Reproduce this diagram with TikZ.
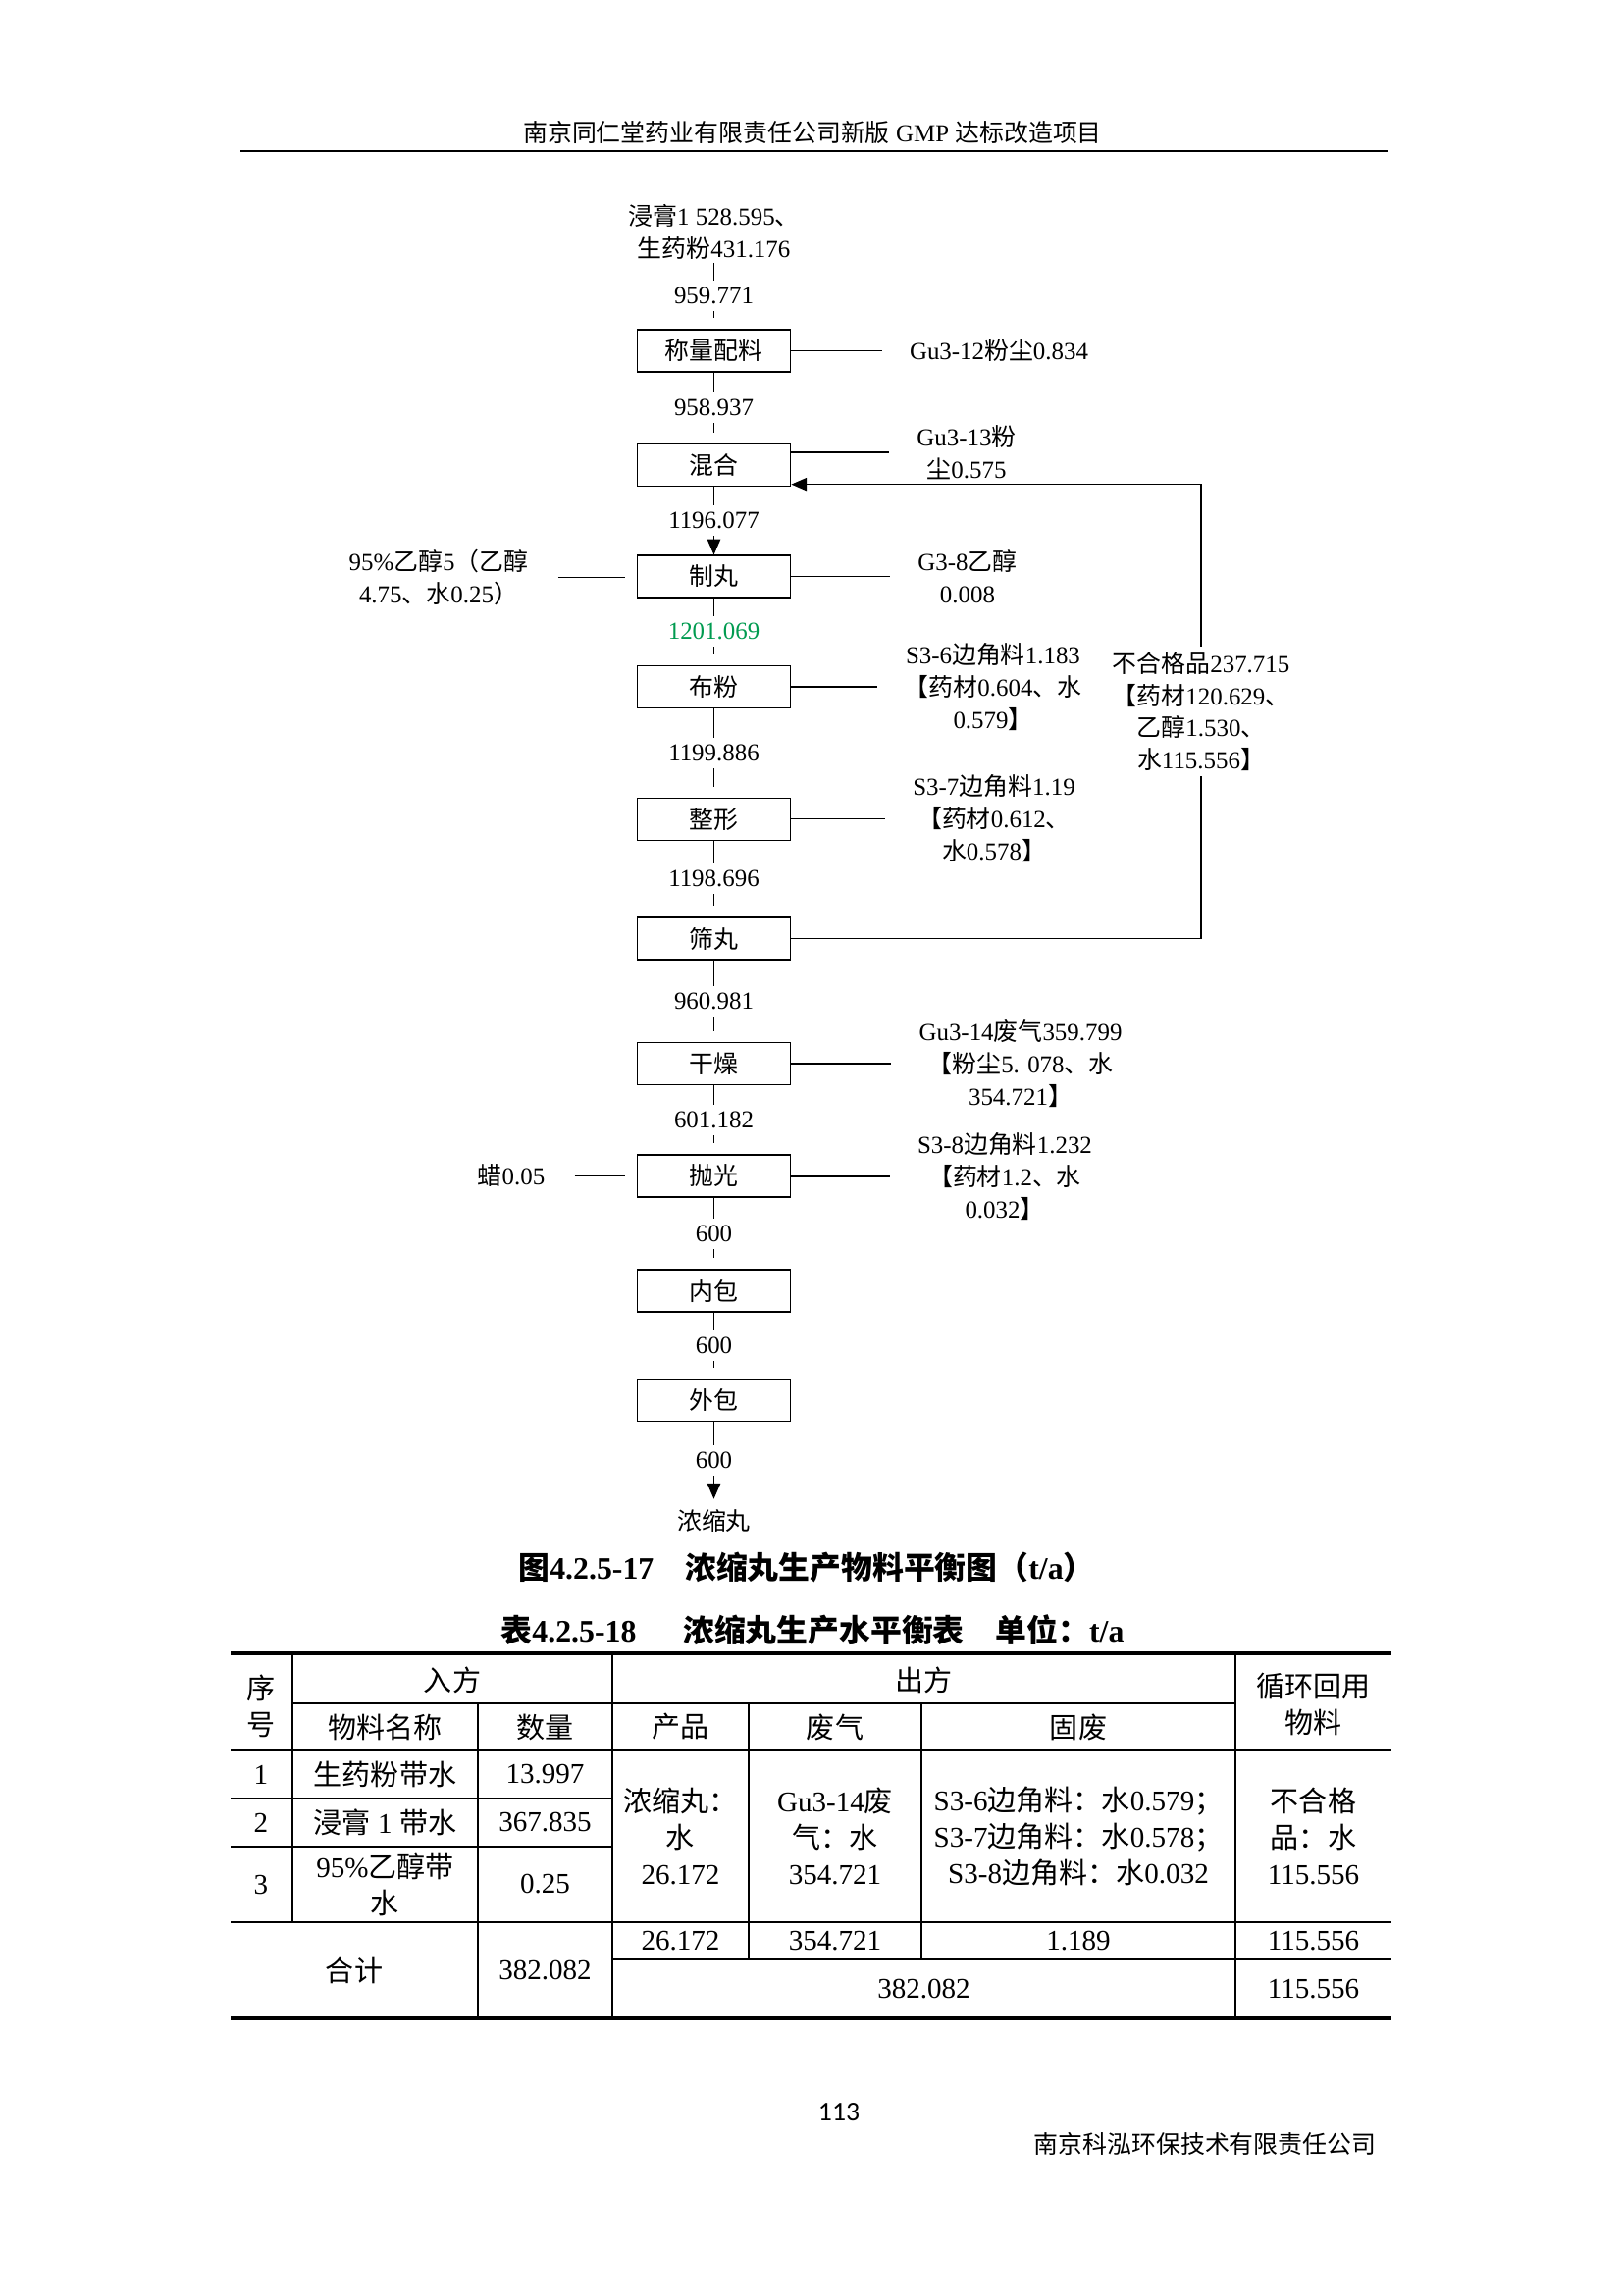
\documentclass[tikz,border=0pt]{standalone}
\usepackage{fontspec}
\setmainfont{Liberation Serif}
\newfontfamily\cjk{Noto Sans CJK SC}
\newfontfamily\pagenum{Carlito}
\usetikzlibrary{arrows.meta,calc}
\definecolor{flowgreen}{RGB}{0,155,80}

% switch to the CJK font for Chinese characters and full-width punctuation
\XeTeXinterchartokenstate=1
\newXeTeXintercharclass\cjkcls
\newcount\cjkc
\cjkc="3000 \loop\XeTeXcharclass\cjkc=\cjkcls \advance\cjkc by 1 \ifnum\cjkc<"3040 \repeat
\cjkc="4E00 \loop\XeTeXcharclass\cjkc=\cjkcls \advance\cjkc by 1 \ifnum\cjkc<"A000 \repeat
\cjkc="FF00 \loop\XeTeXcharclass\cjkc=\cjkcls \advance\cjkc by 1 \ifnum\cjkc<"FFF0 \repeat
\XeTeXinterchartoks 0 \cjkcls={\cjk}
\XeTeXinterchartoks 4095 \cjkcls={\cjk}
\XeTeXinterchartoks \cjkcls 0={\rmfamily}
\XeTeXinterchartoks \cjkcls 4095={\rmfamily}

\newcommand{\fsl}[2]{\fontsize{#1}{#2}\selectfont}
\tikzset{
  >={Triangle[length=2mm,width=1.7mm]},
  box/.style={draw,minimum width=19.9mm,minimum height=5.45mm,inner sep=0pt,font=\fsl{9}{11.9}},
  wt/.style={midway,fill=white,inner xsep=1pt,inner ysep=0.9mm,font=\fsl{9}{11.9}},
  fl/.style={shorten >=1.4mm},
  outl/.style={align=center,inner xsep=3.5mm,inner ysep=1pt,font=\fsl{9}{11.9}},
  inl/.style={align=center,inner xsep=3.8mm,inner ysep=1pt,font=\fsl{9}{11.9}},
  fbl/.style={align=center,fill=white,inner xsep=1pt,inner ysep=0.6mm,font=\fsl{9}{11.9}},
  cell/.style={align=center,inner sep=0pt,font=\fsl{10.5}{13.3}},
  rl/.style={line width=1.6pt},
  ml/.style={line width=1pt},
  tl/.style={line width=0.75pt},
  every picture/.style={line width=0.4pt},
}

\begin{document}
\begin{tikzpicture}[x=0.12697mm,y=-0.12697mm]
\useasboundingbox (0,0) rectangle (1654,2339);
\node[font=\fsl{9}{11}] (hd) at (828,135){南京同仁堂药业有限责任公司新版 GMP 达标改造项目};
\draw[line width=1pt] (245,154) -- (1415,154);

\node[align=center,inner xsep=1pt,inner ysep=1pt,font=\fsl{9}{11.9}] (in) at (727.5,236.5){浸膏1 528.595、\\生药粉431.176};
\node[box] (b1) at (727.5,357.5){称量配料}; \node[box] (b2) at (727.5,474){混合};
\node[box] (b3) at (727.5,587.5){制丸}; \node[box] (b4) at (727.5,700){布粉};
\node[box] (b5) at (727.5,835){整形}; \node[box] (b6) at (727.5,956.5){筛丸};
\node[box] (b7) at (727.5,1084){干燥}; \node[box] (b8) at (727.5,1198.5){抛光};
\node[box] (b9) at (727.5,1315.5){内包}; \node[box] (b10) at (727.5,1427){外包};
\node[inner sep=1.3mm,font=\fsl{9}{11.9}] (out) at (727.5,1550){浓缩丸};

\draw[fl] (in) -- node[wt]{959.771} (b1);
\draw[fl] (b1) -- node[wt]{958.937} (b2);
\draw[->] (b2) -- node[wt]{1196.077} (b3);
\draw[fl] (b3) -- node[wt,text=flowgreen]{1201.069} (b4);
\draw[fl] (b4) -- node[wt]{1199.886} (b5);
\draw[fl] (b5) -- node[wt]{1198.696} (b6);
\draw[fl] (b6) -- node[wt]{960.981} (b7);
\draw[fl] (b7) -- node[wt]{601.182} (b8);
\draw[fl] (b8) -- node[wt]{600} (b9);
\draw[fl] (b9) -- node[wt]{600} (b10);
\draw[->] (b10) -- node[wt]{600} (out);

\node[outl] (o1) at (1018,357.5){Gu3-12粉尘0.834};
\node[outl] (o2) at (985,461){Gu3-13粉\\尘0.575};
\node[outl] (o3) at (986,587.5){G3-8乙醇\\0.008};
\node[outl] (o4) at (1012,700){S3-6边角料1.183\\【药材0.604、水\\0.579】};
\node[outl] (o5) at (1013,834.5){S3-7边角料1.19\\【药材0.612、\\水0.578】};
\node[outl] (o6) at (1040,1084){Gu3-14废气359.799\\【粉尘5. 078、水\\354.721】};
\node[outl] (o7) at (1024,1199){S3-8边角料1.232\\【药材1.2、水\\0.032】};
\draw (b1.east |- o1) -- (o1); \draw (b2.east |- o2) -- (o2); \draw (b3.east |- o3) -- (o3);
\draw (b4.east |- o4) -- (o4); \draw (b5.east |- o5) -- (o5); \draw (b7.east |- o6) -- (o6);
\draw (b8.east |- o7) -- (o7);

\node[inl] (i1) at (447,588.5){95\%乙醇5（乙醇\\4.75、水0.25）};
\node[inl] (i2) at (521,1198.5){蜡0.05};
\draw[shorten >=1.5mm] (i1) -- (b3.west |- i1);
\draw[shorten >=1.5mm] (i2) -- (b8.west |- i2);

\coordinate (rj) at (1224,956.5);
\draw[->] (b6.east) -- (rj) |- node[fbl,pos=0.25]{不合格品237.715\\【药材120.629、\\乙醇1.530、\\水115.556】} ([yshift=0.3mm]b2.south east);

\node[font=\bfseries\fsl{11.5}{14}] (cap) at (822,1597){图4.2.5-17\hspace{1em}浓缩丸生产物料平衡图（t/a）};
\node[font=\bfseries\fsl{11.5}{14}] (ttl) at (828,1661){表4.2.5-18\hspace{1.5em}浓缩丸生产水平衡表\hspace{1em}单位：t/a};

\draw[rl] (235,1685) -- (1418,1685); \draw[rl] (235,2057) -- (1418,2057);
\draw[ml] (235,1784) -- (1418,1784); \draw[ml] (235,1959) -- (1418,1959);
\draw[ml] (624,1997) -- (1418,1997); \draw[tl] (298,1736) -- (1259,1736);
\draw[tl] (235,1833) -- (624,1833); \draw[tl] (235,1882) -- (624,1882);
\draw[ml] (298,1685) -- (298,1959); \draw[ml] (487,1736) -- (487,2057);
\draw[ml] (624,1685) -- (624,2057); \draw[ml] (763,1736) -- (763,1997);
\draw[ml] (939,1736) -- (939,1997); \draw[ml] (1259,1685) -- (1259,2057);

\node[cell] (xh) at (266,1739){序\\号}; \node[cell] (rf) at (461,1712){入方};
\node[cell] (cf) at (941.5,1712){出方}; \node[cell] (xr) at (1338.5,1737){循环回用\\物料};
\node[cell] (hm) at (392.5,1760){物料名称}; \node[cell] (hq) at (555.5,1760){数量};
\node[cell] (hp) at (693.5,1760){产品}; \node[cell] (hw) at (851,1760){废气};
\node[cell] (hs) at (1099,1760){固废};
\node[cell] (n1) at (266,1808.5){1}; \node[cell] (n2) at (266,1857.5){2}; \node[cell] (n3) at (266,1920.5){3};
\node[cell] (m1) at (392.5,1808.5){生药粉带水}; \node[cell] (m2) at (392.5,1857.5){浸膏 1 带水};
\node[cell] (m3) at (392.5,1920.5){95\%乙醇带\\水};
\node[cell] (q1) at (555.5,1808.5){13.997}; \node[cell] (q2) at (555.5,1857.5){367.835};
\node[cell] (q3) at (555.5,1920.5){0.25};
\node[cell] (pd) at (693.5,1871.5){浓缩丸：\\水\\26.172};
\node[cell] (wg) at (851,1871.5){Gu3-14废\\气：水\\354.721};
\node[cell] (sw) at (1099,1871.5){S3-6边角料：水0.579；\\S3-7边角料：水0.578；\\S3-8边角料：水0.032};
\node[cell] (rc) at (1338.5,1871.5){不合格\\品：水\\115.556};
\node[cell] (tot) at (361,2008){合计}; \node[cell] (tq) at (555.5,2008){382.082};
\node[cell] (tp) at (693.5,1978){26.172}; \node[cell] (tw) at (851,1978){354.721};
\node[cell] (ts) at (1099,1978){1.189}; \node[cell] (tr) at (1338.5,1978){115.556};
\node[cell] (to) at (941.5,2027){382.082}; \node[cell] (tr2) at (1338.5,2027){115.556};

\node[font=\pagenum\fsl{10}{12}] (pg) at (855,2153){113};
\node[font=\fsl{9}{11},anchor=east,inner sep=0pt] (co) at (1403,2185){南京科泓环保技术有限责任公司};
\end{tikzpicture}
\end{document}
